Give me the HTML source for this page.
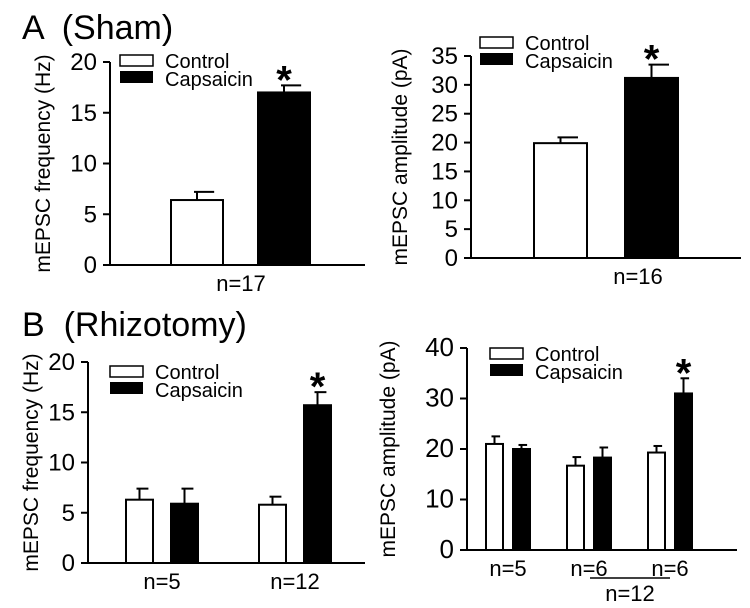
<!DOCTYPE html>
<html><head><meta charset="utf-8"><style>
body{margin:0;background:#fff}
svg{display:block;font-family:"Liberation Sans",Arial,sans-serif}
</style></head><body>
<svg id="c" width="750" height="608" viewBox="0 0 750 608">
<text x="22" y="39" font-size="34" xml:space="preserve">A  (Sham)</text>
<text x="22" y="336" font-size="34" xml:space="preserve">B  (Rhizotomy)</text>
</svg>
<script>
// Panel A-left: frequency (Hz)
const aFreqCategories = ["n=17"];
const aFreqControl = [6.4];
const aFreqControlErr = [0.8];
const aFreqCaps = [17.0];
const aFreqCapsErr = [0.7];
const aFreqTicks = [0,5,10,15,20];
// Panel A-right: amplitude (pA)
const aAmpCategories = ["n=16"];
const aAmpControl = [19.9];
const aAmpControlErr = [1.0];
const aAmpCaps = [31.2];
const aAmpCapsErr = [2.3];
const aAmpTicks = [0,5,10,15,20,25,30,35];
// Panel B-left
const bFreqCategories = ["n=5","n=12"];
const bFreqControl = [6.3,5.8];
const bFreqControlErr = [1.1,0.8];
const bFreqCaps = [5.9,15.7];
const bFreqCapsErr = [1.5,1.3];
const bFreqTicks = [0,5,10,15,20];
// Panel B-right
const bAmpCategories = ["n=5","n=6","n=6"];
const bAmpControl = [21.0,16.7,19.3];
const bAmpControlErr = [1.5,1.7,1.3];
const bAmpCaps = [20.0,18.3,31.0];
const bAmpCapsErr = [0.8,2.0,3.0];
const bAmpTicks = [0,10,20,30,40];

const svg=document.getElementById('c');
const NS='http://www.w3.org/2000/svg';
function mk(tag,attrs,txt){const e=document.createElementNS(NS,tag);for(const k in attrs)e.setAttribute(k,attrs[k]);if(txt!==undefined)e.textContent=txt;svg.appendChild(e);return e;}

function panel(p){
  const y=v=>p.y0-(v/p.max)*(p.y0-p.yTop);
  let e=mk('line',{x1:p.ax,y1:y(p.max),x2:p.ax,y2:p.y0,stroke:'#000','stroke-width':2});
  
  
  e=mk('line',{x1:p.ax,y1:p.y0,x2:p.axEnd,y2:p.y0,stroke:'#000','stroke-width':2});
  
  
  p.ticks.forEach(t=>{
    let l=mk('line',{x1:p.ax-7,y1:y(t),x2:p.ax,y2:y(t),stroke:'#000','stroke-width':2});
    
    
    let tx=mk('text',{x:p.ax-13,y:y(t)+8,'font-size':p.tfs||24,'text-anchor':'end'},String(t));
    
    
  });
  const cy=(p.y0+p.yTop)/2;
  let yt=mk('text',{x:0,y:0,'font-size':21,'text-anchor':'middle',transform:`translate(${p.titleX},${cy}) rotate(-90)`},p.title);
  
  
  function bar(x,w,v,err,fill,nm){
    const cx=x+w/2;
    let eb=mk('line',{x1:cx,y1:y(v),x2:cx,y2:y(v+err),stroke:'#000','stroke-width':2});
    
    
    let cap=mk('line',{x1:cx-3,y1:y(v+err),x2:cx+w*0.33,y2:y(v+err),stroke:'#000','stroke-width':2});
    
    
    let r=mk('rect',{x:x,y:y(v),width:w,height:p.y0-y(v),fill:fill,stroke:'#000','stroke-width':2});
    
    
  }
  p.cats.forEach((c,i)=>{
    const gx=p.g0+i*p.gStep;
    bar(gx,p.bw,p.ctrl[i],p.ctrlErr[i],'#fff',p.id+'-bar-control-'+(i+1));
    bar(gx+p.gap,p.bw,p.caps[i],p.capsErr[i],'#000',p.id+'-bar-capsaicin-'+(i+1));
    let t=mk('text',{x:gx+p.labOff,y:p.y0+26,'font-size':22,'text-anchor':'middle'},c);
    
    
  });
  if(p.star!==undefined){const i=p.star;const gx=p.g0+i*p.gStep+p.gap+p.bw/2;
    let s=mk('text',{x:gx,y:y(p.caps[i]+p.capsErr[i])+8,'font-size':40,'font-weight':'bold','text-anchor':'middle'},'*');
    
    }
  const L=p.leg;
  let r1=mk('rect',{x:L[0],y:L[1],width:33,height:11,fill:'#fff',stroke:'#000','stroke-width':1.5});
  
  
  let t1=mk('text',{x:L[0]+45,y:L[1]+13,'font-size':20},'Control');
  
  
  let r2=mk('rect',{x:L[0],y:L[1]+16,width:33,height:12,fill:'#000'});
  
  
  let t2=mk('text',{x:L[0]+45,y:L[1]+31,'font-size':20},'Capsaicin');
  
  
}
panel({id:'a-freq',ax:110,axEnd:365,y0:265,yTop:62,max:20,ticks:aFreqTicks,title:'mEPSC frequency (Hz)',titleX:50,
  cats:aFreqCategories,ctrl:aFreqControl,ctrlErr:aFreqControlErr,caps:aFreqCaps,capsErr:aFreqCapsErr,
  g0:171,gStep:0,bw:52,gap:87,labOff:70,star:0,leg:[120,55]});
panel({id:'a-amp',ax:471,axEnd:741,y0:258,yTop:56,max:35,ticks:aAmpTicks,title:'mEPSC amplitude (pA)',titleX:407,
  cats:aAmpCategories,ctrl:aAmpControl,ctrlErr:aAmpControlErr,caps:aAmpCaps,capsErr:aAmpCapsErr,
  g0:534,gStep:0,bw:53,gap:91,labOff:104,star:0,leg:[480,37]});
panel({id:'b-freq',ax:88,axEnd:365,y0:563,yTop:362,max:20,ticks:bFreqTicks,title:'mEPSC frequency (Hz)',titleX:38,
  cats:bFreqCategories,ctrl:bFreqControl,ctrlErr:bFreqControlErr,caps:bFreqCaps,capsErr:bFreqCapsErr,
  g0:126,gStep:133,bw:27,gap:45,labOff:36,star:1,leg:[110,366]});
panel({id:'b-amp',ax:467,axEnd:737,y0:550,yTop:348,max:40,ticks:bAmpTicks,title:'mEPSC amplitude (pA)',titleX:395,tfs:26,
  cats:bAmpCategories,ctrl:bAmpControl,ctrlErr:bAmpControlErr,caps:bAmpCaps,capsErr:bAmpCapsErr,
  g0:486,gStep:81,bw:17,gap:27,labOff:22,star:2,leg:[490,348]});
let ln=mk('line',{x1:590,y1:578,x2:670,y2:578,stroke:'#000','stroke-width':1.5});


let n12=mk('text',{x:630,y:601,'font-size':22,'text-anchor':'middle'},'n=12');


</script>
</body></html>
